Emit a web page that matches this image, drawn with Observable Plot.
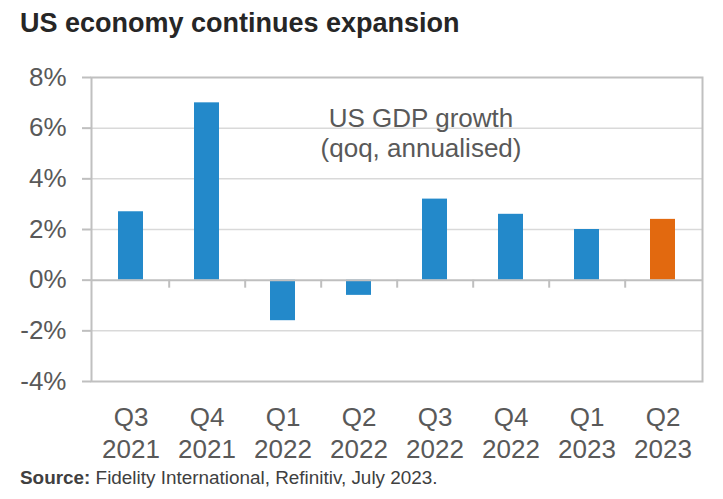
<!DOCTYPE html>
<html>
<head>
<meta charset="utf-8">
<script src="https://cdn.jsdelivr.net/npm/d3@7"></script>
<script src="https://cdn.jsdelivr.net/npm/@observablehq/plot@0.6"></script>
<style>
  html, body { margin: 0; padding: 0; background: #ffffff; }
  body { width: 723px; height: 499px; position: relative; overflow: hidden; font-family: "Liberation Sans", Arial, sans-serif; }
  #title { position: absolute; left: 20px; top: 10px; font-size: 27px; line-height: 1; font-weight: bold; color: #262626; white-space: nowrap; }
  #chart { position: absolute; left: 0; top: 50px; }
  #source { position: absolute; left: 20px; top: 469px; font-size: 18.9px; line-height: 1; color: #404040; white-space: nowrap; }
  #source b { font-weight: bold; }
</style>
</head>
<body>
<div id="title">US economy continues expansion</div>
<div id="chart"></div>
<div id="source"><b>Source:</b> Fidelity International, Refinitiv, July 2023.</div>
<script>
// Data
const quarters = ["Q3 2021", "Q4 2021", "Q1 2022", "Q2 2022", "Q3 2022", "Q4 2022", "Q1 2023", "Q2 2023"];
const growth = [2.7, 7.0, -1.6, -0.6, 3.2, 2.6, 2.0, 2.4];
const highlighted = ["Q2 2023"];
const yTicks = [-4, -2, 0, 2, 4, 6, 8];
const gridTicks = [-2, 2, 4, 6];
const annotation = "US GDP growth\n(qoq, annualised)";

const data = quarters.map((q, i) => ({quarter: q, value: growth[i]}));

const W = 723, H = 420;
const mLeft = 91, mRight = 21, mTop = 27, mBottom = 89;
const step = (W - mLeft - mRight) / quarters.length;

const blue = "#2389ca", orange = "#e2690f";
const textColor = "#595959";

const chart = Plot.plot({
  width: W,
  height: H,
  marginLeft: mLeft,
  marginRight: mRight,
  marginTop: mTop,
  marginBottom: mBottom,
  style: {fontFamily: "'Liberation Sans', Arial, sans-serif", background: "#ffffff"},
  x: {domain: quarters, paddingInner: 0.67, paddingOuter: 0.335, axis: null},
  y: {domain: [-4, 8], axis: null},
  marks: [
    Plot.gridY(gridTicks, {stroke: "#d9d9d9", strokeOpacity: 1, strokeWidth: 1.5}),
    Plot.barY(data, {
      x: "quarter",
      y: "value",
      fill: d => highlighted.includes(d.quarter) ? orange : blue
    }),
    Plot.ruleY([0], {stroke: "#bfbfbf", strokeWidth: 2}),
    Plot.ruleX(quarters.slice(0, -1), {x: d => d, y1: 0, y2: 0, insetBottom: -8, dx: step / 2, stroke: "#bfbfbf", strokeWidth: 2}),
    Plot.frame({stroke: "#c0c0c0", strokeWidth: 2}),
    Plot.axisY(yTicks, {
      label: null,
      tickSize: 9,
      tickPadding: 16,
      tickFormat: d => d + "%",
      fontSize: 26,
      stroke: "#bfbfbf",
      strokeWidth: 2,
      fill: textColor
    }),
    Plot.text(quarters, {
      x: d => d,
      text: d => d.replace(" ", "\n"),
      frameAnchor: "bottom",
      lineAnchor: "top",
      dy: 22,
      lineHeight: 1.215,
      fontSize: 26,
      fill: textColor
    }),
    Plot.text([annotation], {
      text: d => d,
      frameAnchor: "top",
      lineAnchor: "top",
      dx: 24,
      dy: 28,
      lineHeight: 1.154,
      fontSize: 26,
      fill: textColor
    })
  ]
});
document.getElementById("chart").appendChild(chart);
</script>
</body>
</html>
